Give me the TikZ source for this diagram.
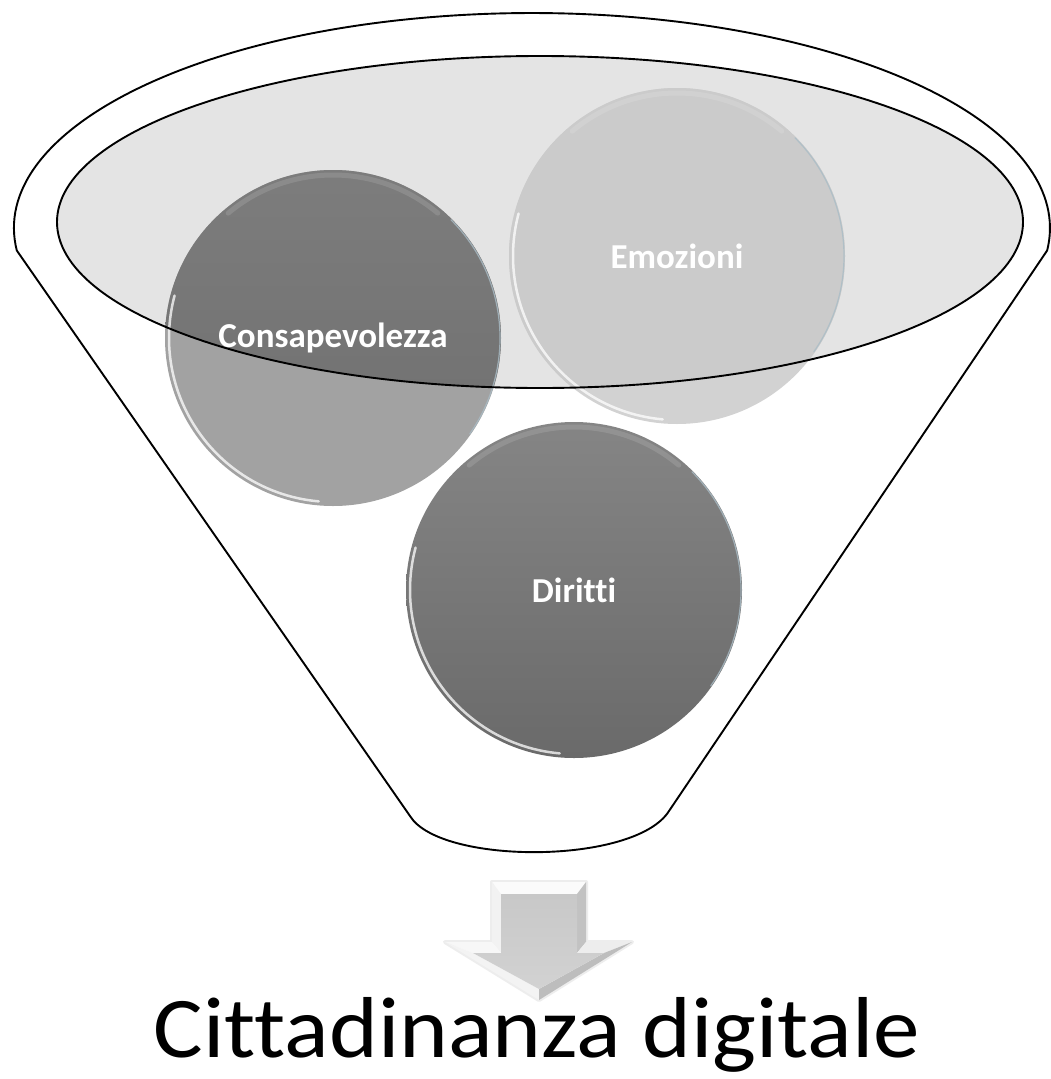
\documentclass[tikz,border=0pt]{standalone}
\usepackage{fontspec}
\usepackage{graphicx}
\setmainfont{Carlito}[Ligatures=NoCommon]
\definecolor{ellfill}{HTML}{E4E4E4}
\definecolor{conlow}{HTML}{A2A2A2}
\definecolor{conhigh}{HTML}{6E6E6E}
\definecolor{emoin}{HTML}{CBCBCB}
\definecolor{emoout}{HTML}{D2D2D2}
\definecolor{ditop}{HTML}{858585}
\definecolor{dibot}{HTML}{6A6A6A}
\definecolor{rimblue}{HTML}{A9BCC6}
\definecolor{arA}{HTML}{FBFBFB}
\definecolor{arB}{HTML}{F2F2F2}
\definecolor{arC}{HTML}{C2C2C2}
\definecolor{arD}{HTML}{F7F7F7}
\definecolor{arE}{HTML}{EDEDED}
\definecolor{arF}{HTML}{F3F3F3}
\definecolor{arG}{HTML}{BDBDBD}
\definecolor{arTop}{HTML}{C8C8C8}
\definecolor{arBot}{HTML}{D2D2D2}
\begin{document}
\begin{tikzpicture}[x=1pt,y=-1pt,
  lbl/.style={text=white,font=\fontsize{35}{40}\selectfont\bfseries,inner sep=0pt},
  rimw/.style={white,line width=2.5pt,line cap=round,opacity=0.75},
  rimt/.style={white,line width=5pt,line cap=round,opacity=0.12},
  rimb/.style={rimblue,line width=1.2pt,line cap=round,opacity=0.8},
  outl/.style={black,line width=1.9pt}]
\useasboundingbox (0,0) rectangle (1051,1079);
\fill[white] (0,0) rectangle (1051,1079);

% funnel body
\draw[outl,fill=white] (16.8,250.5) arc[start angle=174,end angle=366,x radius=518,y radius=215]
  -- (669,811) .. controls (635,865) and (440,865) .. (410,816) -- cycle;

% inner ellipse fill
\fill[ellfill] (540,222) ellipse[x radius=483,y radius=166];

% circles, base colours
\fill[conlow] (333,338) circle[radius=168];
\fill[emoout] (677,256) circle[radius=168];
\shade[top color=ditop,bottom color=dibot] (574,590) circle[radius=168];

% parts inside the ellipse
\begin{scope}
  \clip (540,222) ellipse[x radius=483,y radius=166];
  \shade[top color=conhigh!90!white,bottom color=conhigh] (333,338) circle[radius=168];
  \fill[emoin] (677,256) circle[radius=168];
\end{scope}

% rims
\foreach \cx/\cy in {333/338,677/256,574/590}{
  \draw[rimw] (\cx,\cy) ++(95:164) arc[start angle=95,end angle=195,radius=164];
  \draw[rimt] (\cx,\cy) ++(230:163) arc[start angle=230,end angle=310,radius=163];
  \draw[rimb] (\cx,\cy) ++(-45:167) arc[start angle=-45,end angle=35,radius=167];
}

% ellipse outline on top
\draw[outl] (540,222) ellipse[x radius=483,y radius=166];

% labels
\node[lbl] (con) at (333,338) {Consapevolezza};
\node[lbl] (emo) at (677,256) {Emozioni};
\node[lbl] (dir) at (574,590) {Diritti};

% arrow
\coordinate (A) at (492,882); \coordinate (B) at (586,882);
\coordinate (C) at (586,942); \coordinate (D) at (632,942);
\coordinate (T) at (539,1000); \coordinate (E) at (445,942);
\coordinate (F) at (492,942);
\coordinate (a) at (501,894); \coordinate (b) at (577,894);
\coordinate (c) at (577,953); \coordinate (d) at (604,953);
\coordinate (t) at (539,989); \coordinate (e) at (473,953);
\coordinate (f) at (501,953);
\draw[gray!40,line width=4pt,opacity=0.35,line join=round] (A)--(B)--(C)--(D)--(T)--(E)--(F)--cycle;
\fill[arA] (A)--(B)--(b)--(a)--cycle;
\fill[arB] (A)--(a)--(f)--(F)--cycle;
\fill[arC] (B)--(C)--(c)--(b)--cycle;
\fill[arD] (F)--(f)--(e)--(E)--cycle;
\fill[arE] (C)--(D)--(d)--(c)--cycle;
\fill[arF] (E)--(e)--(t)--(T)--cycle;
\fill[arG] (D)--(T)--(t)--(d)--cycle;
\shade[top color=arTop,bottom color=arBot]
  (a)--(b)--(c)--(d)--(t)--(e)--(f)--cycle;

% title
\node[anchor=base,inner sep=0pt,font=\fontsize{93}{110}\selectfont] (title) at (537,1057) {\scalebox{1}[0.93]{Cittadinanza digitale}};
\end{tikzpicture}
\end{document}
